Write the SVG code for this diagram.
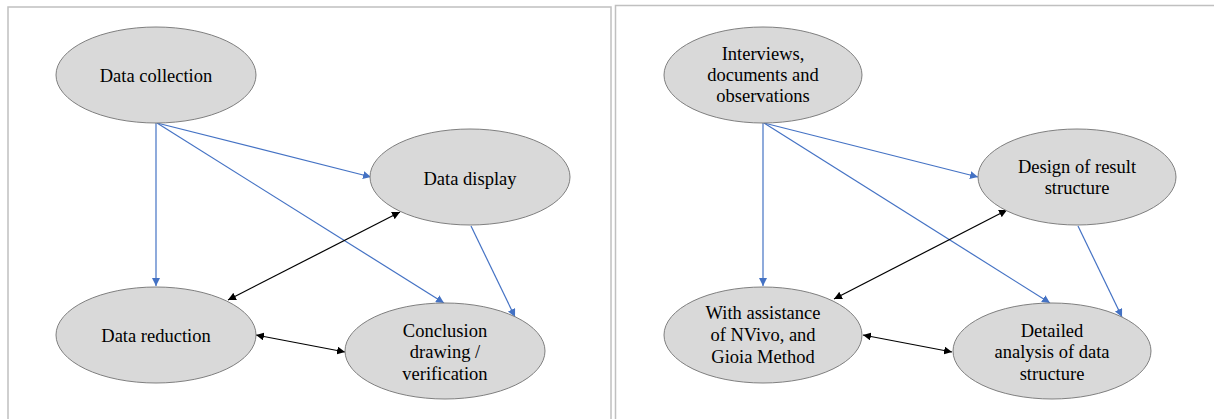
<svg xmlns="http://www.w3.org/2000/svg" width="1214" height="419" viewBox="0 0 1214 419">
<style>
.panel{fill:#ffffff;stroke:#c0c0c0;stroke-width:1.5}
.node ellipse{fill:#d9d9d9;stroke:#7f7f7f;stroke-width:1}
.node text{font-family:'Liberation Serif','Times New Roman',serif;font-size:18.5px;fill:#000;text-anchor:middle}
.blue{stroke:#4472c4;stroke-width:1.2;fill:none;marker-end:url(#ab)}
.black{stroke:#000;stroke-width:1.2;fill:none;marker-end:url(#ak);marker-start:url(#aks)}
</style>
<defs>
<marker id="ab" viewBox="0 0 10 10" refX="10" refY="5" markerWidth="8" markerHeight="8" markerUnits="userSpaceOnUse" orient="auto"><path d="M0,0 L10,5 L0,10 z" fill="#4472c4"/></marker>
<marker id="ak" viewBox="0 0 10 10" refX="10" refY="5" markerWidth="8" markerHeight="8" markerUnits="userSpaceOnUse" orient="auto"><path d="M0,0 L10,5 L0,10 z" fill="#000"/></marker>
<marker id="aks" viewBox="0 0 10 10" refX="0" refY="5" markerWidth="8" markerHeight="8" markerUnits="userSpaceOnUse" orient="auto"><path d="M10,0 L0,5 L10,10 z" fill="#000"/></marker>
</defs>
<rect width="1214" height="419" fill="#ffffff"/>
<rect class="panel" x="8" y="7" width="603" height="420"/>
<rect class="panel" x="615.5" y="5.5" width="610" height="420"/>

<g id="connectors">
<line class="blue" x1="156" y1="123" x2="156" y2="286"/>
<line class="blue" x1="157" y1="123" x2="371" y2="177"/>
<line class="blue" x1="157" y1="123" x2="444" y2="303"/>
<line class="blue" x1="471" y1="226" x2="515" y2="317"/>
<line class="black" x1="400" y1="212" x2="228" y2="300"/>
<line class="black" x1="256" y1="335" x2="345" y2="352"/>

<line class="blue" x1="763" y1="123" x2="763" y2="286"/>
<line class="blue" x1="764" y1="123" x2="978" y2="177"/>
<line class="blue" x1="764" y1="123" x2="1050" y2="303"/>
<line class="blue" x1="1078" y1="226" x2="1122" y2="317"/>
<line class="black" x1="1007" y1="210" x2="834" y2="299"/>
<line class="black" x1="863" y1="335" x2="952" y2="352"/>
</g>

<g id="data-collection" class="node"><ellipse cx="156" cy="75" rx="100" ry="48"/><text x="156" y="82">Data collection</text></g>
<g id="data-display" class="node"><ellipse cx="470" cy="177" rx="100" ry="48"/><text x="470" y="185">Data display</text></g>
<g id="data-reduction" class="node"><ellipse cx="156" cy="335" rx="100" ry="48"/><text x="156" y="342">Data reduction</text></g>
<g id="conclusion" class="node"><ellipse cx="445" cy="351" rx="100" ry="48"/><text x="445" y="337">Conclusion</text><text x="445" y="358">drawing /</text><text x="445" y="380">verification</text></g>

<g id="interviews" class="node"><ellipse cx="763" cy="75" rx="99" ry="48"/><text x="763" y="60">Interviews,</text><text x="763" y="81">documents and</text><text x="763" y="102">observations</text></g>
<g id="design" class="node"><ellipse cx="1077" cy="177" rx="99" ry="48"/><text x="1077" y="173">Design of result</text><text x="1077" y="194">structure</text></g>
<g id="assistance" class="node"><ellipse cx="763" cy="335" rx="99" ry="48"/><text x="763" y="319">With assistance</text><text x="763" y="341">of NVivo, and</text><text x="763" y="363">Gioia Method</text></g>
<g id="detailed" class="node"><ellipse cx="1052" cy="351" rx="99" ry="48"/><text x="1052" y="337">Detailed</text><text x="1052" y="358">analysis of data</text><text x="1052" y="380">structure</text></g>
</svg>
